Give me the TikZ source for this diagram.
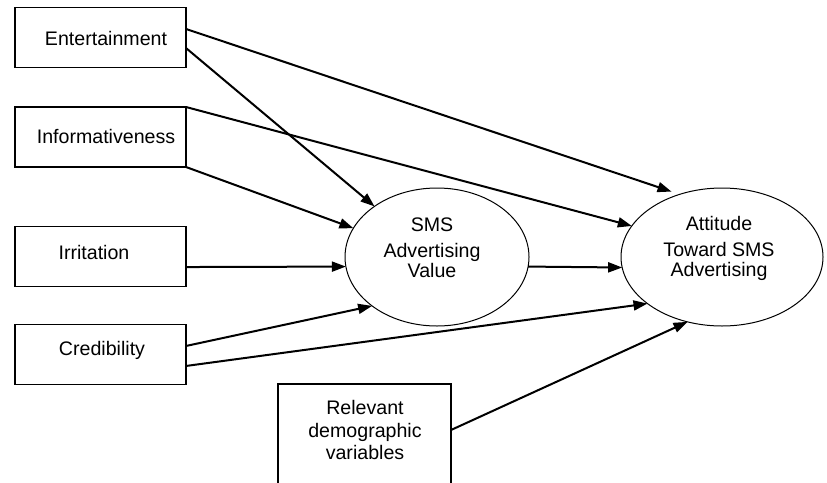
\documentclass[tikz,border=0pt]{standalone}
\usepackage{fontspec}
\setmainfont{Liberation Sans}
\usetikzlibrary{arrows.meta}
\usetikzlibrary{shapes.geometric}

\tikzset{
  factor/.style={draw, line width=0.8pt, minimum width=128.25pt, minimum height=45pt, inner sep=0pt, outer sep=0pt},
  construct/.style={draw, ellipse, line width=0.75pt, minimum height=103.5pt, inner sep=0pt, outer sep=0pt},
  link/.style={line width=1.5pt, -{Triangle[length=10.5pt,width=7.5pt]}},
  caption/.style={inner sep=0.75pt, align=center, font=\fontsize{14.7}{15}\selectfont}
}

\begin{document}
\begin{tikzpicture}[x=0.75pt,y=0.75pt,yscale=-1,xscale=1]
\useasboundingbox (0,0) rectangle (827,482);

%Shape: Rectangle [factors]
\node [factor] (ent) at (100.5,37.5) {};
\node [factor] (inf) at (100.5,137) {};
\node [factor] (irr) at (100.5,256.5) {};
\node [factor] (cred) at (100.5,354.5) {};
%Shape: Rectangle [demographics, runs off the bottom]
\node [factor, minimum width=129.75pt, minimum height=105pt, anchor=north] (demo) at (364.5,384) {};

%Shape: Ellipse
\node [construct, minimum width=138pt] (sms) at (437,257) {};
\node [construct, minimum width=151.5pt] (att) at (722,257) {};

% Text Node
\node [caption] (enttxt) at (106,38) {Entertainment};
% Text Node
\node [caption] (inftxt) at (106,136) {Informativeness};
% Text Node
\node [caption] (irrtxt) at (94,252) {Irritation};
% Text Node
\node [caption] (credtxt) at (102,350) {Credibility};
% Text Node
\node [caption] (smstxt) at (432,248) {SMS\\[4.5pt]Advertising\\Value};
% Text Node
\node [caption] (atttxt) at (719,248) {Attitude\\[4.5pt]Toward SMS\\Advertising};
% Text Node
\node [caption, font=\fontsize{14.7}{16.9}\selectfont] (demotxt) at (365,430) {Relevant\\demographic\\variables};

%Straight Lines [paths], yscale=-1 flips the shifts
\draw [link, shorten >=6.5pt] ([yshift=-6.4pt]ent.east) -- (att.124);
\draw [link] ([yshift=7.9pt]ent.east) -- (sms.141);
\draw [link] (inf.north east) -- (att.161);
\draw [link] (inf.south east) -- (sms.161);
\draw [link] ([yshift=7.9pt]irr.east) -- (sms.186);
\draw [link] ([yshift=-6.4pt]cred.east) -- (sms.217);
\draw [link] ([yshift=8.6pt]cred.east) -- (att.212);
\draw [link] (sms.354) -- (att.186);
\draw [link] (demotxt -| demo.east) -- (att.242);

\end{tikzpicture}
\end{document}
